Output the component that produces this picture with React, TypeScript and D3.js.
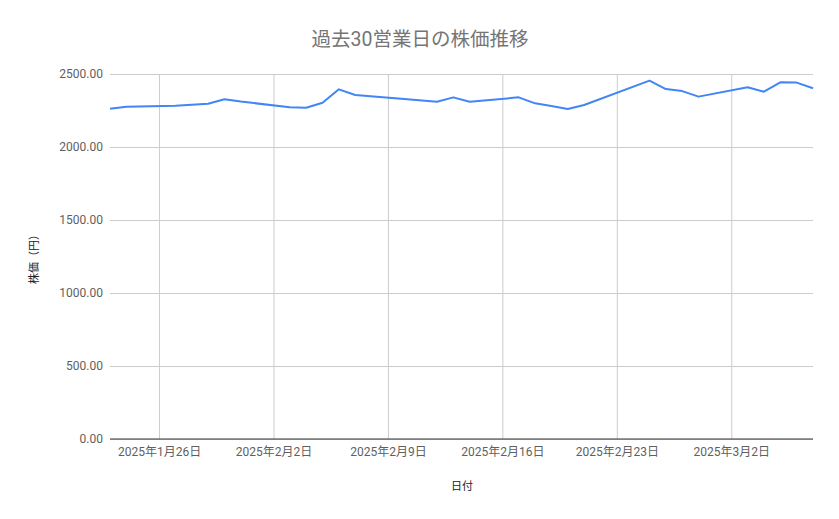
import * as d3 from 'd3';
import React, { useEffect, useRef } from 'react';

const WIDTH = 839;
const HEIGHT = 519;
const FONT = 'Roboto, "Noto Sans CJK JP", sans-serif';

// business days shown in the chart (holidays 2/11 and 2/24 are skipped)
const dates = [
  '2025-01-23', '2025-01-24', '2025-01-27', '2025-01-28', '2025-01-29', '2025-01-30', '2025-01-31',
  '2025-02-03', '2025-02-04', '2025-02-05', '2025-02-06', '2025-02-07',
  '2025-02-10', '2025-02-12', '2025-02-13', '2025-02-14',
  '2025-02-17', '2025-02-18', '2025-02-19', '2025-02-20', '2025-02-21',
  '2025-02-25', '2025-02-26', '2025-02-27', '2025-02-28',
  '2025-03-03', '2025-03-04', '2025-03-05', '2025-03-06', '2025-03-07',
];
const prices = [
  2262, 2276, 2282, 2289, 2296, 2327, 2311,
  2272, 2269, 2303, 2395, 2356,
  2329, 2310, 2340, 2310,
  2340, 2299, 2281, 2260, 2288,
  2455, 2397, 2383, 2345,
  2409, 2379, 2443, 2441, 2402,
];
const xTickDates = ['2025-01-26', '2025-02-02', '2025-02-09', '2025-02-16', '2025-02-23', '2025-03-02'];
const yTicks = [0, 500, 1000, 1500, 2000, 2500];
const xDomain = ['2025-01-23', '2025-03-07'];

const TITLE = '過去30営業日の株価推移';
const X_TITLE = '日付';
const Y_TITLE = '株価（円）';

const margin = { top: 74, right: 26, bottom: 80, left: 110 };

export default function App() {
  const ref = useRef<SVGSVGElement>(null);

  useEffect(() => {
    const svg = d3.select(ref.current);
    svg.selectAll('*').remove();

    const parse = d3.utcParse('%Y-%m-%d');
    const data = dates.map((d, i) => ({ date: parse(d) as Date, value: prices[i] }));

    const x = d3
      .scaleUtc()
      .domain(xDomain.map(d => parse(d) as Date))
      .range([margin.left, WIDTH - margin.right]);
    const y = d3
      .scaleLinear()
      .domain([0, 2500])
      .range([HEIGHT - margin.bottom, margin.top]);

    svg.append('rect').attr('width', WIDTH).attr('height', HEIGHT).attr('fill', '#fff');

    // horizontal grid + y labels
    const yAxis = d3
      .axisLeft(y)
      .tickValues(yTicks)
      .tickFormat(d3.format('.2f'))
      .tickSize(-(WIDTH - margin.left - margin.right))
      .tickPadding(7);
    const gy = svg.append('g').attr('transform', `translate(${margin.left},0)`).call(yAxis);
    gy.select('.domain').remove();
    gy.selectAll('.tick line').attr('stroke', '#cccccc');
    gy.selectAll('.tick text')
      .attr('fill', '#5f5f5f')
      .style('font-family', FONT)
      .style('font-size', '12px');

    // vertical grid + x labels
    const xTicks = xTickDates.map(d => parse(d) as Date);
    const xAxis = d3
      .axisBottom(x)
      .tickValues(xTicks)
      .tickFormat(d => d3.utcFormat('%Y年%-m月%-d日')(d as Date))
      .tickSize(-(HEIGHT - margin.top - margin.bottom))
      .tickPadding(8);
    const gx = svg
      .append('g')
      .attr('transform', `translate(0,${HEIGHT - margin.bottom})`)
      .call(xAxis);
    gx.select('.domain').remove();
    gx.selectAll('.tick line').attr('stroke', '#cccccc');
    gx.selectAll('.tick text')
      .attr('fill', '#5f5f5f')
      .style('font-family', FONT)
      .style('font-size', '12px');

    // baseline
    svg
      .append('line')
      .attr('x1', margin.left)
      .attr('x2', WIDTH - margin.right)
      .attr('y1', y(0))
      .attr('y2', y(0))
      .attr('stroke', '#333333')
      .attr('stroke-width', 1);

    const line = d3
      .line<{ date: Date; value: number }>()
      .x(d => x(d.date))
      .y(d => y(d.value));

    svg
      .append('path')
      .datum(data)
      .attr('d', line)
      .attr('fill', 'none')
      .attr('stroke', '#4285f4')
      .attr('stroke-width', 2)
      .attr('stroke-linejoin', 'round');

    svg
      .append('text')
      .attr('x', 420)
      .attr('y', 46)
      .attr('text-anchor', 'middle')
      .attr('fill', '#757575')
      .style('font-family', FONT)
      .style('font-size', '19.5px')
      .text(TITLE);

    svg
      .append('text')
      .attr('x', 462)
      .attr('y', 490)
      .attr('text-anchor', 'middle')
      .attr('fill', '#222222')
      .style('font-family', FONT)
      .style('font-size', '11px')
      .text(X_TITLE);

    svg
      .append('text')
      .attr('transform', `translate(38,${(margin.top + HEIGHT - margin.bottom) / 2}) rotate(-90)`)
      .attr('text-anchor', 'middle')
      .attr('fill', '#222222')
      .style('font-family', FONT)
      .style('font-size', '11px')
      .text(Y_TITLE);
  }, []);

  return (
    <div style={{ position: 'absolute', left: 0, top: 0 }}>
      <svg ref={ref} width={WIDTH} height={HEIGHT} />
    </div>
  );
}
